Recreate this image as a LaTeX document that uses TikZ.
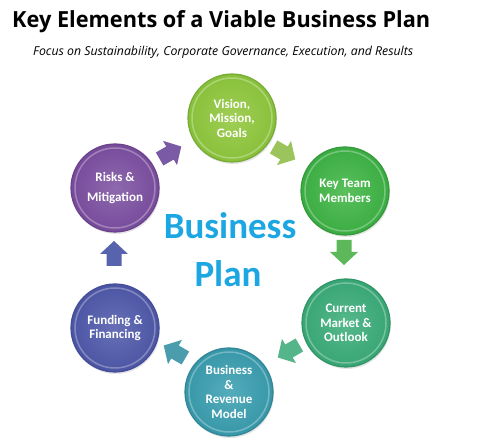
\documentclass[tikz,border=0pt]{standalone}
\usepackage{fontspec}
\setmainfont{Carlito}
\newfontfamily\headfont{Open Sans}
\usetikzlibrary{shadows}
\definecolor{visB}{HTML}{88C03A}\definecolor{visL}{HTML}{A0CE55}\definecolor{visD}{HTML}{78AA36}
\definecolor{keyB}{HTML}{3AAC42}\definecolor{keyL}{HTML}{5AC05C}\definecolor{keyD}{HTML}{33993A}
\definecolor{mktB}{HTML}{38A574}\definecolor{mktL}{HTML}{55B88B}\definecolor{mktD}{HTML}{309466}
\definecolor{bizB}{HTML}{3797A8}\definecolor{bizL}{HTML}{54ACBB}\definecolor{bizD}{HTML}{308696}
\definecolor{funB}{HTML}{4C55A3}\definecolor{funL}{HTML}{666FB6}\definecolor{funD}{HTML}{434C98}
\definecolor{rskB}{HTML}{774B9B}\definecolor{rskL}{HTML}{8E69AE}\definecolor{rskD}{HTML}{6A428C}
\definecolor{arA}{HTML}{9CC45C}\definecolor{arB}{HTML}{5DB85A}\definecolor{arC}{HTML}{55B58A}
\definecolor{arD}{HTML}{4B9DAE}\definecolor{arE}{HTML}{5763AD}\definecolor{arF}{HTML}{7B5AA5}
\definecolor{bpblue}{HTML}{1CA6E2}
\newcommand{\cyclearrowat}[4]{%
  \begin{scope}[shift={(#1)}, rotate=#2]
    \fill[#3] (-12,-7.5) -- (0,-7.5) -- (0,-14) -- (13,0) -- (0,14) -- (0,7.5) -- (-12,7.5) -- cycle;
    \coordinate (#4) at (0,0);
  \end{scope}}
\begin{document}
\begin{tikzpicture}[x=1pt,y=1pt,
  bubble/.style n args={3}{circle, minimum size=88pt, inner sep=0pt, align=center,
    text=white, font=\bfseries\fontsize{13}{14.5}\selectfont,
    inner color=#2, outer color=#1, draw=#3, line width=1.2pt,
    drop shadow={opacity=0.2, shadow xshift=1pt, shadow yshift=-2pt},
    path picture={\draw[white, opacity=0.3, line width=1.5pt]
      (path picture bounding box.center) circle (40pt);}},
  bptext/.style={anchor=base, inner sep=0pt, text=bpblue, font=\bfseries\fontsize{37}{42}\selectfont}
]
\useasboundingbox (0,0) rectangle (483,443);
\node[anchor=base west, inner sep=0pt] (title) at (12,415)
  {\resizebox{418pt}{17pt}{\headfont\bfseries Key Elements of a Viable Business Plan}};
\node[anchor=base west, inner sep=0pt] (subtitle) at (33,387)
  {\resizebox{380pt}{!}{\headfont\itshape Focus on Sustainability, Corporate Governance, Execution, and Results}};

\node[bubble={visB}{visL}{visD}] (vision) at (232,325) {Vision,\\Mission,\\Goals};
\node[bubble={keyB}{keyL}{keyD}] (team) at (345,252) {Key Team\\Members};
\node[bubble={mktB}{mktL}{mktD}] (market) at (346,120) {Current\\Market \&\\Outlook};
\node[bubble={bizB}{bizL}{bizD}] (model) at (229,51) {Business\\\&\\Revenue\\Model};
\node[bubble={funB}{funL}{funD}] (funding) at (115,115) {Funding \&\\Financing};
\node[bubble={rskB}{rskL}{rskD}] (risks) at (115,255) {Risks \&\\[6pt]Mitigation};

\cyclearrowat{284,290}{-30}{arA}{arrowA}
\cyclearrowat{344,191}{-90}{arB}{arrowB}
\cyclearrowat{289,92}{-150}{arC}{arrowC}
\cyclearrowat{175,91}{150}{arD}{arrowD}
\cyclearrowat{114,189}{90}{arE}{arrowE}
\cyclearrowat{170,290}{30}{arF}{arrowF}

\node[bptext] (bp1) at (230,204) {Business};
\node[bptext] (bp2) at (228,156) {Plan};
\end{tikzpicture}
\end{document}
